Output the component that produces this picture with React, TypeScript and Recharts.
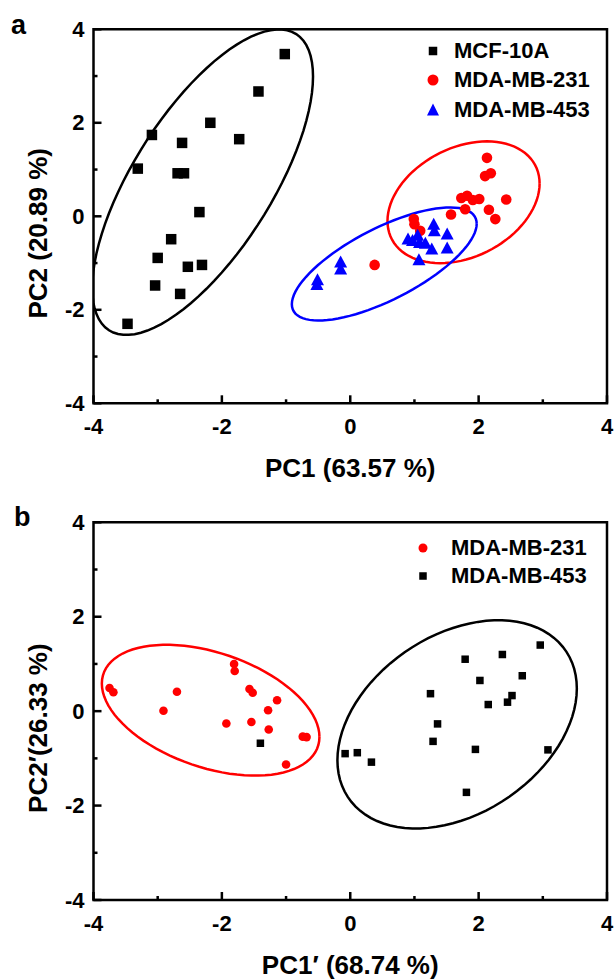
import { Legend, ReferenceArea, Scatter, ScatterChart, XAxis, YAxis } from 'recharts'

const FONT = '"Liberation Sans", Arial, Helvetica, sans-serif'
const TICKS = [-4, -3, -2, -1, 0, 1, 2, 3, 4]

// ---- panel a ----
const MCF10A_X = [-1.02, -1.43, -2.18, -1.73, -3.09, -2.62, -3.31, -2.69, -2.59, -2.35, -2.79, -3.0, -2.53, -2.31, -3.04, -2.65, -3.47]
const MCF10A_Y = [3.47, 2.67, 2.0, 1.65, 1.74, 1.57, 1.02, 0.92, 0.92, 0.09, -0.49, -0.89, -1.08, -1.04, -1.48, -1.66, -2.3]

const MB231_A_X = [2.13, 2.1, 2.19, 1.73, 1.82, 1.91, 2.01, 1.79, 2.16, 2.26, 2.43, 1.57, 0.99, 1.0, 1.09, 0.38]
const MB231_A_Y = [1.25, 0.86, 0.92, 0.39, 0.44, 0.35, 0.37, 0.15, 0.14, -0.06, 0.36, 0.04, -0.06, -0.17, -0.31, -1.04]

const MB453_A_X = [-0.51, -0.52, -0.15, -0.15, 0.9, 0.97, 1.05, 1.08, 1.3, 1.31, 1.51, 1.17, 1.27, 1.51, 1.07]
const MB453_A_Y = [-1.36, -1.46, -0.98, -1.13, -0.49, -0.52, -0.41, -0.56, -0.17, -0.31, -0.38, -0.58, -0.7, -0.68, -0.93]

// ---- panel b ----
const MB231_B_X = [-3.75, -3.69, -2.7, -2.91, -1.81, -1.8, -1.57, -1.52, -1.14, -1.28, -1.93, -1.54, -1.27, -0.74, -0.68, -1.0]
const MB231_B_Y = [0.49, 0.4, 0.41, 0.01, 1.0, 0.85, 0.47, 0.39, 0.23, 0.02, -0.26, -0.23, -0.39, -0.54, -0.55, -1.13]

const MB453_B_X = [-1.4, -0.08, 0.11, 0.33, 1.25, 1.36, 1.29, 1.79, 2.02, 2.37, 2.15, 2.52, 2.45, 2.68, 2.96, 1.95, 3.08, 1.81]
const MB453_B_Y = [-0.68, -0.9, -0.88, -1.08, 0.37, -0.27, -0.64, 1.1, 0.65, 1.2, 0.14, 0.33, 0.19, 0.75, 1.4, -0.81, -0.82, -1.72]

// confidence ellipses: [centre x, centre y, x radius, y tilt, y radius]
const ELLIPSE_A_MCF = [-2.3, 0.73, 1.72, 2.26, 2.36]
const ELLIPSE_A_231 = [1.765, 0.3, 1.185, 0.4, 1.24]
const ELLIPSE_A_453 = [0.53, -1.02, 1.44, 0.86, 0.85]
const ELLIPSE_B_231 = [-2.175, 0.02, 1.695, -0.565, 1.265]
const ELLIPSE_B_453 = [1.665, -0.28, 1.865, 0.76, 2.07]

const zip = (xs: number[], ys: number[]) => xs.map((x, i) => ({ x, y: ys[i] }))

function ellipseOutline([cx, cy, rx, tilt, ry]: number[]) {
  const pts = []
  for (let i = 0; i <= 90; i++) {
    const t = (i / 90) * Math.PI * 2
    pts.push({ x: cx + rx * Math.cos(t), y: cy + tilt * Math.cos(t) + ry * Math.sin(t) })
  }
  return pts
}

const square = (size: number, color: string) => (p: any) => (
  <rect x={p.cx - size / 2} y={p.cy - size / 2} width={size} height={size} fill={color} />
)
const dot = (r: number, color: string) => (p: any) => <circle cx={p.cx} cy={p.cy} r={r} fill={color} />
const triangle = (w: number, h: number, color: string) => (p: any) => (
  <polygon
    points={`${p.cx},${p.cy - h * 0.55} ${p.cx - w / 2},${p.cy + h * 0.45} ${p.cx + w / 2},${p.cy + h * 0.45}`}
    fill={color}
  />
)
const noDot = () => <g />

// ticks point inwards; odd values are unlabelled minor ticks
function XTick(props: any) {
  const { x, y, payload } = props
  const major = payload.value % 2 === 0
  return (
    <g>
      <line x1={x} x2={x} y1={y} y2={y - (major ? 8 : 4)} stroke="#000" strokeWidth={2.5} />
      {major && (
        <text x={x} y={y + 23} textAnchor="middle" dominantBaseline="central" fontSize={22} fontWeight="bold" fontFamily={FONT} fill="#000">
          {payload.value}
        </text>
      )}
    </g>
  )
}

function YTick(props: any) {
  const { x, y, payload } = props
  const major = payload.value % 2 === 0
  return (
    <g>
      <line x1={x} x2={x + (major ? 8 : 4)} y1={y} y2={y} stroke="#000" strokeWidth={2.5} />
      {major && (
        <text x={x - 9} y={y} textAnchor="end" dominantBaseline="central" fontSize={22} fontWeight="bold" fontFamily={FONT} fill="#000">
          {payload.value}
        </text>
      )}
    </g>
  )
}

const xTitle = (text: string) => (props: any) => {
  const { x, y, width } = props.viewBox
  return (
    <text x={x + width / 2} y={y + 65} textAnchor="middle" dominantBaseline="central" fontSize={26} fontWeight="bold" fontFamily={FONT} fill="#000">
      {text}
    </text>
  )
}

const yTitle = (text: string) => (props: any) => {
  const { x, y, height } = props.viewBox
  const cx = x + 4.5
  const cy = y + height / 2 + 17
  return (
    <text x={cx} y={cy} transform={`rotate(-90, ${cx}, ${cy})`} textAnchor="middle" dominantBaseline="central" fontSize={26} fontWeight="bold" fontFamily={FONT} fill="#000">
      {text}
    </text>
  )
}

function LegendMarker({ type, color, size }: { type: string, color: string, size: number }) {
  if (type === 'square')
    return <rect x={13 - size / 2} y={14 - size / 2} width={size} height={size} fill={color} />
  if (type === 'triangle')
    return <polygon points={`13,${14 - size * 0.55} ${13 - size / 2},${14 + size * 0.45} ${13 + size / 2},${14 + size * 0.45}`} fill={color} />
  return <circle cx={13} cy={14} r={size / 2} fill={color} />
}

const legendContent = (rowHeight: number, gap: number, sizes: Record<string, number>) => (props: any) => (
  <div style={{ fontFamily: FONT, fontWeight: 'bold', fontSize: 22, color: '#000' }}>
    {(props.payload || []).map((entry: any) => (
      <div key={entry.value} style={{ display: 'flex', alignItems: 'center', height: rowHeight, whiteSpace: 'nowrap' }}>
        <svg width={26} height={28} style={{ display: 'block' }}>
          <LegendMarker type={entry.type} color={entry.color} size={sizes[entry.type]} />
        </svg>
        <span style={{ marginLeft: gap }}>{entry.value}</span>
      </div>
    ))}
  </div>
)

export default function App() {
  const axisCommon = {
    type: 'number' as const,
    domain: [-4, 4],
    ticks: TICKS,
    interval: 0,
    axisLine: false,
    tickLine: false,
    tickSize: 0,
    tickMargin: 0,
    allowDataOverflow: true,
  }

  return (
    <div style={{ position: 'absolute', left: 0, top: 0, width: 614, height: 979, background: '#fff', fontFamily: FONT }}>
      <div style={{ position: 'absolute', left: 11, top: 12, fontSize: 27, fontWeight: 'bold', lineHeight: '27px' }}>a</div>
      <div style={{ position: 'absolute', left: 14, top: 504, fontSize: 27, fontWeight: 'bold', lineHeight: '27px' }}>b</div>

      <div style={{ position: 'absolute', left: 0, top: 0 }}>
        <ScatterChart width={614} height={490} margin={{ top: 29.3, right: 7, bottom: 46.7, left: 33.5 }}>
          <XAxis {...axisCommon} dataKey="x" height={40} tick={(p: any) => <XTick {...p} />} label={xTitle('PC1 (63.57 %)')} />
          <YAxis {...axisCommon} dataKey="y" width={60} tick={(p: any) => <YTick {...p} />} label={yTitle('PC2 (20.89 %)')} />
          <ReferenceArea x1={-4} x2={4} y1={-4} y2={4} fill="none" stroke="#000" strokeWidth={2.5} ifOverflow="visible" />
          <Scatter data={ellipseOutline(ELLIPSE_A_MCF)} fill="#000" line={{ stroke: '#000', strokeWidth: 2.5 }} lineType="joint" shape={noDot} legendType="none" isAnimationActive={false} />
          <Scatter data={ellipseOutline(ELLIPSE_A_231)} fill="#ff0000" line={{ stroke: '#ff0000', strokeWidth: 2.5 }} lineType="joint" shape={noDot} legendType="none" isAnimationActive={false} />
          <Scatter data={ellipseOutline(ELLIPSE_A_453)} fill="#0000ff" line={{ stroke: '#0000ff', strokeWidth: 2.5 }} lineType="joint" shape={noDot} legendType="none" isAnimationActive={false} />
          <Scatter name="MCF-10A" data={zip(MCF10A_X, MCF10A_Y)} fill="#000" legendType="square" shape={square(10.5, '#000')} isAnimationActive={false} />
          <Scatter name="MDA-MB-231" data={zip(MB231_A_X, MB231_A_Y)} fill="#ff0000" legendType="circle" shape={dot(5.3, '#ff0000')} isAnimationActive={false} />
          <Scatter name="MDA-MB-453" data={zip(MB453_A_X, MB453_A_Y)} fill="#0000ff" legendType="triangle" shape={triangle(13, 12, '#0000ff')} isAnimationActive={false} />
          <Legend
            layout="vertical"
            align="center"
            verticalAlign="middle"
            content={legendContent(29.5, 8.5, { square: 8.5, circle: 11, triangle: 12 })}
            wrapperStyle={{ top: 35.75, left: 419.5, width: 'auto' }}
          />
        </ScatterChart>
      </div>

      <div style={{ position: 'absolute', left: 0, top: 470 }}>
        <ScatterChart width={614} height={509} margin={{ top: 52.3, right: 7, bottom: 39, left: 33.5 }}>
          <XAxis {...axisCommon} dataKey="x" height={40} tick={(p: any) => <XTick {...p} />} label={xTitle('PC1′ (68.74 %)')} />
          <YAxis {...axisCommon} dataKey="y" width={60} tick={(p: any) => <YTick {...p} />} label={yTitle('PC2′(26.33 %)')} />
          <ReferenceArea x1={-4} x2={4} y1={-4} y2={4} fill="none" stroke="#000" strokeWidth={2.5} ifOverflow="visible" />
          <Scatter data={ellipseOutline(ELLIPSE_B_231)} fill="#ff0000" line={{ stroke: '#ff0000', strokeWidth: 2.5 }} lineType="joint" shape={noDot} legendType="none" isAnimationActive={false} />
          <Scatter data={ellipseOutline(ELLIPSE_B_453)} fill="#000" line={{ stroke: '#000', strokeWidth: 2.5 }} lineType="joint" shape={noDot} legendType="none" isAnimationActive={false} />
          <Scatter name="MDA-MB-231" data={zip(MB231_B_X, MB231_B_Y)} fill="#ff0000" legendType="circle" shape={dot(4.3, '#ff0000')} isAnimationActive={false} />
          <Scatter name="MDA-MB-453" data={zip(MB453_B_X, MB453_B_Y)} fill="#000" legendType="square" shape={square(7.5, '#000')} isAnimationActive={false} />
          <Legend
            layout="vertical"
            align="center"
            verticalAlign="middle"
            content={legendContent(28.3, 15.5, { square: 7.5, circle: 9, triangle: 10 })}
            wrapperStyle={{ top: 63.5, left: 409.5, width: 'auto' }}
          />
        </ScatterChart>
      </div>
    </div>
  )
}
